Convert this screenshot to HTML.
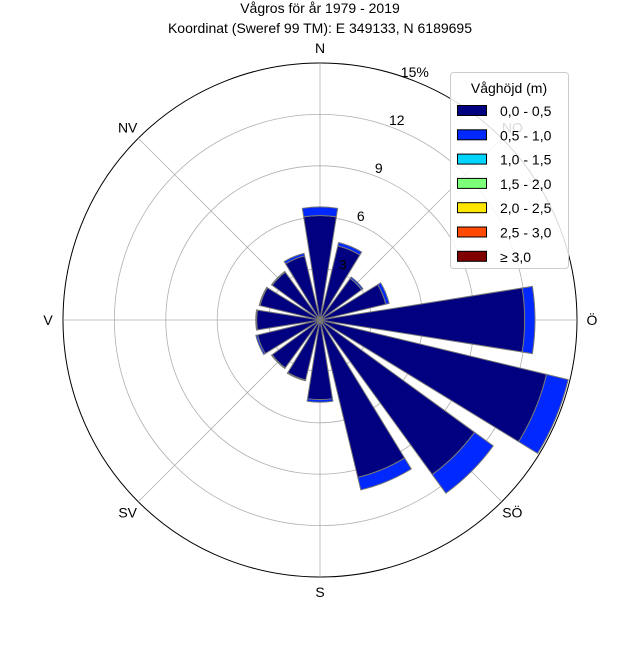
<!DOCTYPE html>
<html><head><meta charset="utf-8"><style>
body{margin:0;background:#fff}
svg{font-family:"Liberation Sans",sans-serif}
</style></head><body>
<svg id="c" width="640" height="640" viewBox="0 0 640 640">
<text x="320" y="13" text-anchor="middle" font-size="14">Vågros för år 1979 - 2019</text>
<text x="320" y="33" text-anchor="middle" font-size="14">Koordinat (Sweref 99 TM): E 349133, N 6189695</text>
<g id="grid"></g><g id="bars"></g><g id="labels"></g>
<g id="legend"></g>
</svg>
<script>
const directions=["N","NNO","NO","ONO","Ö","OSO","SÖ","SSO","S","SSV","SV","VSV","V","VNV","NV","NNV"];
const band1=[6.1,4.45,3.0,3.95,11.95,13.6,11.15,9.45,4.65,3.6,3.45,3.75,3.7,3.6,3.45,3.85];
const band2=[0.5,0.2,0.1,0.2,0.6,1.3,1.35,0.75,0.15,0.05,0.05,0.1,0.05,0.05,0.05,0.15];
const rTicks=[3,6,9,12,15];
const rTickLabels=["3","6","9","12","15%"];
const compass=["N","NO","Ö","SÖ","S","SV","V","NV"];
const legendLabels=["0,0 - 0,5","0,5 - 1,0","1,0 - 1,5","1,5 - 2,0","2,0 - 2,5","2,5 - 3,0","≥ 3,0"];
const colors=["#000080","#0028ff","#00d4ff","#7cff79","#ffe600","#ff4a00","#800000"];
const NS="http://www.w3.org/2000/svg",cx=320,cy=320,R=257,rMax=15;
const rs=v=>v/rMax*R;
function pt(r,deg){const a=deg*Math.PI/180;return [cx+r*Math.sin(a),cy-r*Math.cos(a)];}
function mk(tag,attrs,parent){const e=document.createElementNS(NS,tag);for(const k in attrs)e.setAttribute(k,attrs[k]);parent.appendChild(e);return e;}
const grid=document.getElementById('grid'),bars=document.getElementById('bars'),labels=document.getElementById('labels'),leg=document.getElementById('legend');
rTicks.forEach((t,i)=>{
 const c=mk('circle',{cx:cx,cy:cy,r:rs(t),fill:'none',stroke:i==rTicks.length-1?'#000':'#b0b0b0','stroke-width':i==rTicks.length-1?1:0.8},grid);
 
 
});
compass.forEach((d,i)=>{
 const p=pt(R,i*45);
 const l=mk('line',{x1:cx,y1:cy,x2:p[0],y2:p[1],stroke:'#b0b0b0','stroke-width':0.8},grid);
 
 
 const q=pt(R+15,i*45);
 const t=mk('text',{x:q[0],y:q[1]+5,'text-anchor':'middle','font-size':14},labels);
 t.textContent=d;
 
 
});
rTicks.forEach((t,i)=>{
 const p=pt(rs(t)+8,22.5-2);
 const e=mk('text',{x:p[0]+2,y:p[1]+5,'text-anchor':'middle','font-size':14},labels);
 e.textContent=rTickLabels[i];
 
 
});
function wedge(r0,r1,a,w){
 const a0=a-w/2,a1=a+w/2;const p0=pt(r0,a0),p1=pt(r1,a0),p2=pt(r1,a1),p3=pt(r0,a1);
 return `M${p0[0]},${p0[1]}L${p1[0]},${p1[1]}A${r1},${r1} 0 0 1 ${p2[0]},${p2[1]}L${p3[0]},${p3[1]}`+(r0>0?`A${r0},${r0} 0 0 0 ${p0[0]},${p0[1]}`:'')+'Z';
}
directions.forEach((d,i)=>{
 const a=i*22.5,w=18;
 const e1=mk('path',{d:wedge(0,rs(band1[i]),a,w),fill:colors[0],stroke:'#777','stroke-width':1},bars);
 
 
 const e2=mk('path',{d:wedge(rs(band1[i]),rs(band1[i]+band2[i]),a,w),fill:colors[1],stroke:'#777','stroke-width':1},bars);
 
 
});
const lb=mk('rect',{x:450.5,y:72.5,width:118,height:196,rx:3,fill:'#fff','fill-opacity':0.85,stroke:'#ccc'},leg);


const lt=mk('text',{x:509,y:93,'text-anchor':'middle','font-size':14},leg);
lt.textContent='Våghöjd (m)';


legendLabels.forEach((s,i)=>{
 const y=105+i*24.3;
 const r=mk('rect',{x:457.5,y:y+0.5,width:29,height:10,fill:colors[i],stroke:'#000','stroke-width':1},leg);
 
 
 const t=mk('text',{x:500,y:y+11,'font-size':14},leg);
 t.textContent=s;
 
 
});
</script>
</body></html>
